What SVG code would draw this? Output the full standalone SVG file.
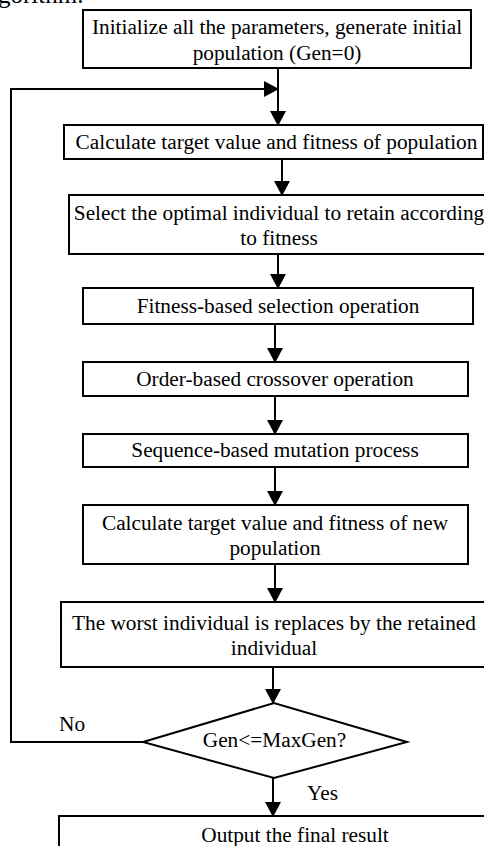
<svg xmlns="http://www.w3.org/2000/svg" width="484" height="846" viewBox="0 0 484 846">
<style>
.box{fill:#fff;stroke:#000;stroke-width:2}
.t{font-family:"Liberation Serif","Times New Roman",serif;font-size:21.3px;fill:#000;text-anchor:middle}
.l{font-family:"Liberation Serif","Times New Roman",serif;font-size:21.3px;fill:#000}
.c{fill:none;stroke:#000;stroke-width:2}
</style>
<defs>
<marker id="ah" markerUnits="userSpaceOnUse" markerWidth="15" markerHeight="16" refX="14" refY="8" orient="auto">
<path d="M0,0 L15,8 L0,16 z" fill="#000"/>
</marker>
</defs>
<rect width="484" height="846" fill="#fff"/>
<text class="l" x="-2" y="3" style="font-size:25px">gorithm.</text>
<g id="connectors">
<path class="c" d="M278,68 V125" marker-end="url(#ah)"/>
<path class="c" d="M143,742 H11 V89 H278" marker-end="url(#ah)"/>
<path class="c" d="M282,159 V195" marker-end="url(#ah)"/>
<path class="c" d="M278,254 V288" marker-end="url(#ah)"/>
<path class="c" d="M275,324 V362" marker-end="url(#ah)"/>
<path class="c" d="M275,396 V434" marker-end="url(#ah)"/>
<path class="c" d="M275,467 V505" marker-end="url(#ah)"/>
<path class="c" d="M275,564 V602" marker-end="url(#ah)"/>
<path class="c" d="M273,667 V703" marker-end="url(#ah)"/>
<path class="c" d="M273,778 V816" marker-end="url(#ah)"/>
<text class="l" x="59" y="731">No</text>
<text class="l" x="307" y="800">Yes</text>
</g>
<g id="init">
<rect class="box" x="83" y="10" width="388" height="58"/>
<text class="t" x="277" y="34">Initialize all the parameters, generate initial</text>
<text class="t" x="277" y="60">population (Gen=0)</text>
</g>
<g id="calc">
<rect class="box" x="64" y="125" width="419" height="34"/>
<text class="t" x="276.5" y="149">Calculate target value and fitness of population</text>
</g>
<g id="select">
<rect class="box" x="69" y="195" width="420" height="59"/>
<text class="t" x="279" y="220">Select the optimal individual to retain according</text>
<text class="t" x="279" y="245">to fitness</text>
</g>
<g id="fitness">
<rect class="box" x="83" y="288" width="390" height="36"/>
<text class="t" x="278" y="313">Fitness-based selection operation</text>
</g>
<g id="order">
<rect class="box" x="83" y="362" width="385" height="34"/>
<text class="t" x="275" y="386">Order-based crossover operation</text>
</g>
<g id="sequence">
<rect class="box" x="83" y="434" width="385" height="33"/>
<text class="t" x="275" y="457">Sequence-based mutation process</text>
</g>
<g id="calcnew">
<rect class="box" x="83" y="505" width="385" height="59"/>
<text class="t" x="275" y="530">Calculate target value and fitness of new</text>
<text class="t" x="275" y="555">population</text>
</g>
<g id="worst">
<rect class="box" x="61" y="602" width="426" height="65"/>
<text class="t" x="274" y="630">The worst individual is replaces by the retained</text>
<text class="t" x="274" y="655">individual</text>
</g>
<g id="decision">
<polygon class="box" points="143,742 274,703 407,742 274,778"/>
<text class="t" x="274.5" y="747">Gen&lt;=MaxGen?</text>
</g>
<g id="output">
<rect class="box" x="59" y="816" width="472" height="50"/>
<text class="t" x="295" y="842">Output the final result</text>
</g>
</svg>
